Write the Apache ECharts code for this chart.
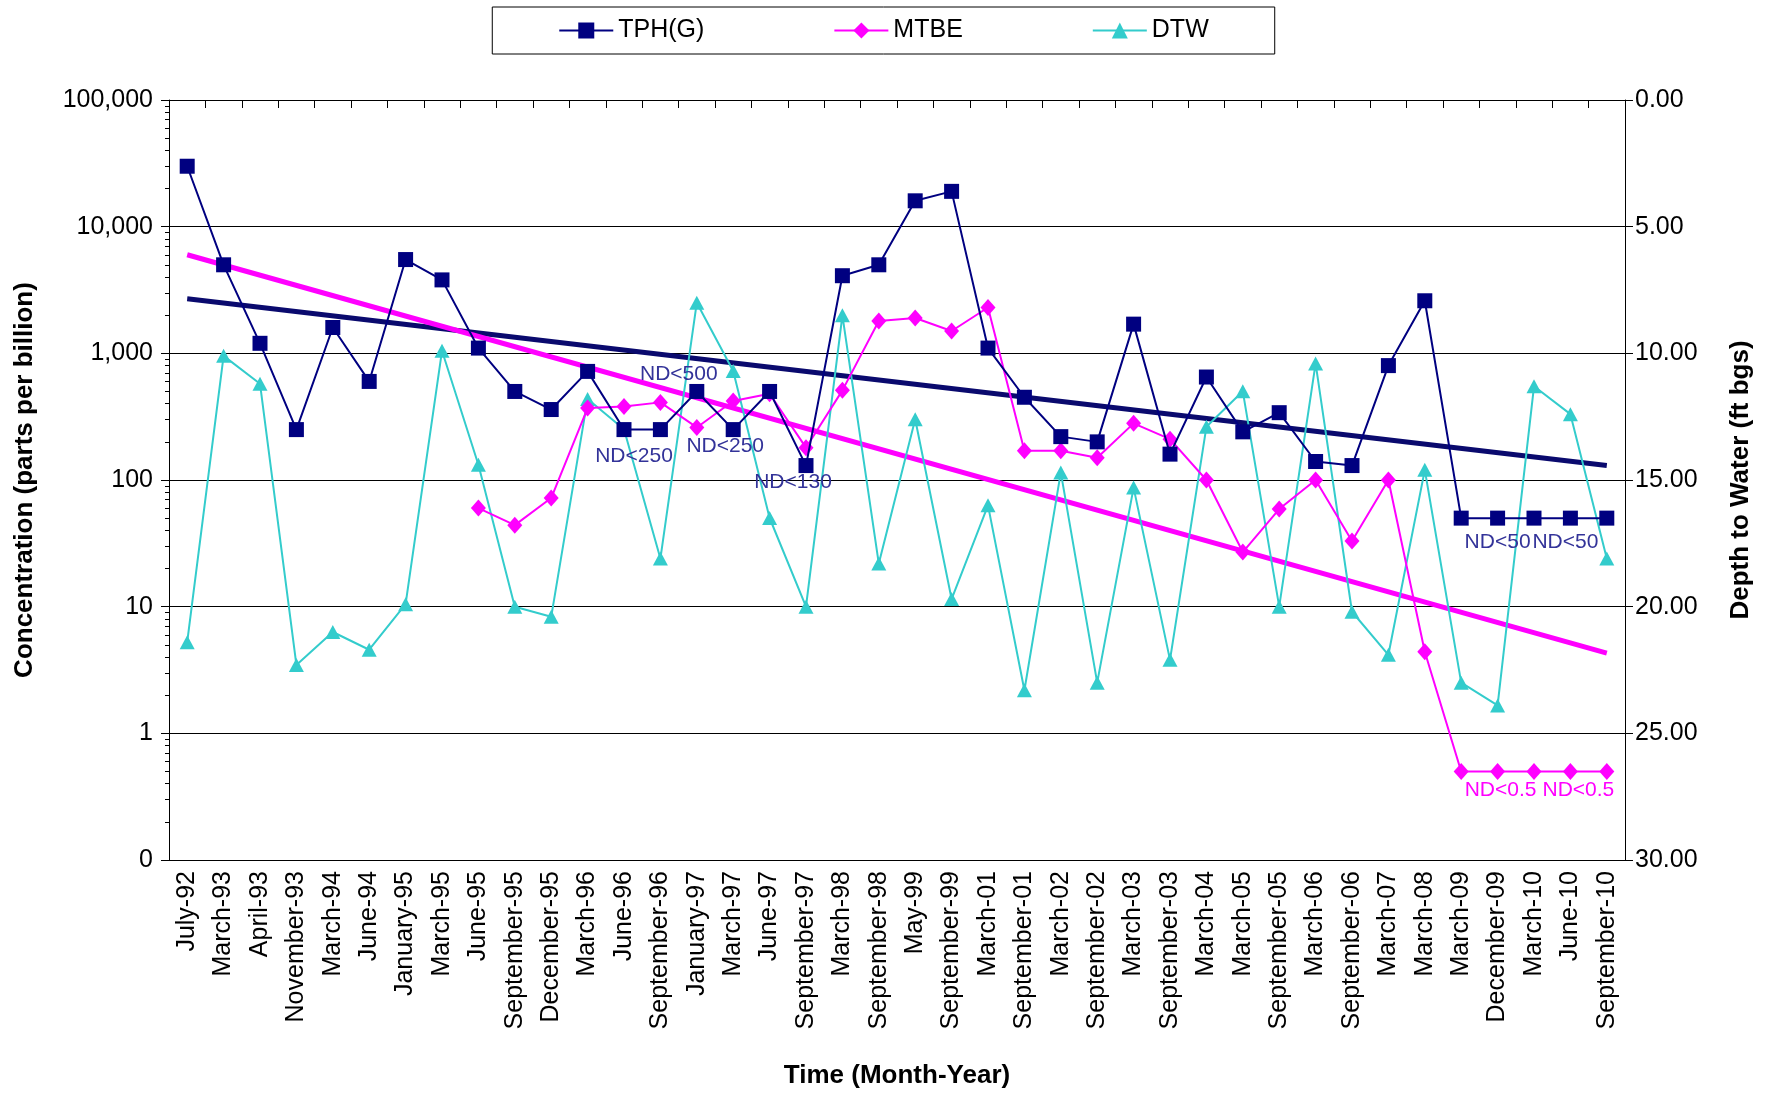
<!DOCTYPE html>
<html><head><meta charset="utf-8">
<script src="https://cdn.jsdelivr.net/npm/echarts@6/dist/echarts.min.js"></script>
<style>html,body{margin:0;padding:0;background:#fff}#c{width:1767px;height:1094px}</style>
</head><body><div id="c"></div>
<script>
const categories = ['July-92','March-93','April-93','November-93','March-94','June-94','January-95','March-95','June-95','September-95','December-95','March-96','June-96','September-96','January-97','March-97','June-97','September-97','March-98','September-98','May-99','September-99','March-01','September-01','March-02','September-02','March-03','September-03','March-04','March-05','September-05','March-06','September-06','March-07','March-08','March-09','December-09','March-10','June-10','September-10'];
const tph = [30000,5000,1200,250,1600,600,5500,3800,1100,500,360,720,250,250,500,250,500,130,4100,5000,16000,19000,1100,450,220,200,1700,160,650,240,340,140,130,800,2600,50,50,50,50,50];
const mtbe = [null,null,null,null,null,null,null,null,60,44,72,370,380,410,260,420,480,180,510,1800,1900,1500,2300,170,170,150,280,210,100,27,59,100,33,100,4.4,0.5,0.5,0.5,0.5,0.5];
const dtw = [21.4,10.1,11.2,22.3,21.0,21.7,19.9,9.9,14.4,20.0,20.4,11.8,13.0,18.1,8.0,10.7,16.5,20.0,8.5,18.3,12.6,19.7,16.0,23.3,14.7,23.0,15.3,22.1,12.9,11.5,20.0,10.4,20.2,21.9,14.6,23.0,23.9,11.3,12.4,18.1];
const tphTrendEnds = [2700, 130];
const mtbeTrendEnds = [6000, 4.3];
const tphNotes = [['January-97','ND<500'],['June-96','ND<250'],['March-97','ND<250'],['September-97','ND<130'],['December-09','ND<50'],['June-10','ND<50']];
const mtbeNotes = [['December-09','ND<0.5'],['June-10','ND<0.5']];
const leftTicks = ['0','1','10','100','1,000','10,000','100,000'];

// label offsets (style only)
const noteOffsets = {
  'TPH|January-97':[-18,-17], 'TPH|June-96':[10,27], 'TPH|March-97':[-8,17], 'TPH|September-97':[-13,17],
  'TPH|December-09':[0,24], 'TPH|June-10':[-5,24],
  'MTBE|December-09':[3,19], 'MTBE|June-10':[8,19]
};

const FONT = '"Liberation Sans", Arial, sans-serif';

function withNotes(values, notes, key, color){
  return values.map((v,i)=>{
    const n = notes.find(x=>x[0]===categories[i]);
    if(!n || v==null) return v;
    return {value:v, label:{show:true, formatter:n[1], position:'inside', offset:noteOffsets[key+'|'+n[0]], color:color, fontSize:21, fontFamily:FONT}};
  });
}

const minorVals = [];
for (let d=0.1; d<100000; d*=10){ for(let k=2;k<=9;k++) minorVals.push(+(d*k).toPrecision(3)); }

const chart = echarts.init(document.getElementById('c'), null, {renderer:'canvas'});
chart.setOption({
  animation:false,
  backgroundColor:'#fff',
  textStyle:{fontFamily:FONT},
  legend:{
    data:['TPH(G)','MTBE','DTW'],
    top:7, left:'center',
    itemWidth:54, itemHeight:20, itemGap:129,
    padding:[11,66,11,66],
    borderColor:'#000', borderWidth:1,
    textStyle:{fontSize:25, color:'#000', fontFamily:FONT}
  },
  grid:{left:169, right:142, top:100, bottom:229, containLabel:false},
  xAxis:{
    type:'category', data:categories, boundaryGap:true,
    axisLine:{lineStyle:{color:'#000', width:1}},
    axisTick:{show:true, length:8, lineStyle:{color:'#000'}},
    axisLabel:{interval:0, rotate:90, fontSize:25, color:'#000', margin:11, fontFamily:FONT},
    name:'Time (Month-Year)', nameLocation:'middle', nameGap:203,
    nameTextStyle:{fontSize:26, fontWeight:'bold', color:'#000', fontFamily:FONT}
  },
  yAxis:[{
    type:'log', logBase:10, min:0.1, max:100000, position:'left',
    axisLine:{show:true, lineStyle:{color:'#000'}},
    axisTick:{show:true, length:8, lineStyle:{color:'#000'}},
    splitLine:{show:true, lineStyle:{color:'#000', width:1}},
    axisLabel:{fontSize:25, color:'#000', margin:16, fontFamily:FONT,
      formatter:v=>{ const e=Math.round(Math.log10(v)); return leftTicks[e+1]; }},
    name:'Concentration (parts per billion)', nameLocation:'middle', nameGap:131, nameRotate:90,
    nameTextStyle:{fontSize:26, fontWeight:'bold', color:'#000', fontFamily:FONT}
  },{
    type:'value', min:0, max:30, interval:5, inverse:true, position:'right',
    axisLine:{show:true, lineStyle:{color:'#000'}},
    axisTick:{show:true, length:8, lineStyle:{color:'#000'}},
    splitLine:{show:false},
    axisLabel:{fontSize:25, color:'#000', margin:10, fontFamily:FONT, formatter:v=>v.toFixed(2)},
    name:'Depth to Water (ft bgs)', nameLocation:'middle', nameGap:103, nameRotate:90,
    nameTextStyle:{fontSize:26, fontWeight:'bold', color:'#000', fontFamily:FONT}
  },{
    type:'log', logBase:10, min:0.1, max:100000, position:'left',
    axisLine:{show:false}, splitLine:{show:false}, axisLabel:{show:false},
    axisTick:{show:true, length:4, customValues:minorVals, lineStyle:{color:'#000'}}
  }],
  series:[
    {name:'TPH trend', type:'line', yAxisIndex:0, data:[[categories[0],tphTrendEnds[0]],[categories[categories.length-1],tphTrendEnds[1]]],
      symbol:'none', lineStyle:{color:'#0a0a6e', width:5}, z:2, silent:true},
    {name:'MTBE trend', type:'line', yAxisIndex:0, data:[[categories[0],mtbeTrendEnds[0]],[categories[categories.length-1],mtbeTrendEnds[1]]],
      symbol:'none', lineStyle:{color:'#FF00FF', width:5}, z:2, silent:true},
    {name:'DTW', type:'line', yAxisIndex:1, data:dtw, symbol:'triangle', symbolSize:[15,14],
      itemStyle:{color:'#33CCCC'}, lineStyle:{color:'#33CCCC', width:2}, z:3},
    {name:'MTBE', type:'line', yAxisIndex:0, data:withNotes(mtbe, mtbeNotes, 'MTBE', '#FF00FF'), symbol:'diamond', symbolSize:[15,17],
      itemStyle:{color:'#FF00FF'}, lineStyle:{color:'#FF00FF', width:2}, z:4},
    {name:'TPH(G)', type:'line', yAxisIndex:0, data:withNotes(tph, tphNotes, 'TPH', '#333399'), symbol:'rect', symbolSize:15,
      itemStyle:{color:'#000080'}, lineStyle:{color:'#000080', width:2}, z:5}
  ]
});
</script></body></html>
